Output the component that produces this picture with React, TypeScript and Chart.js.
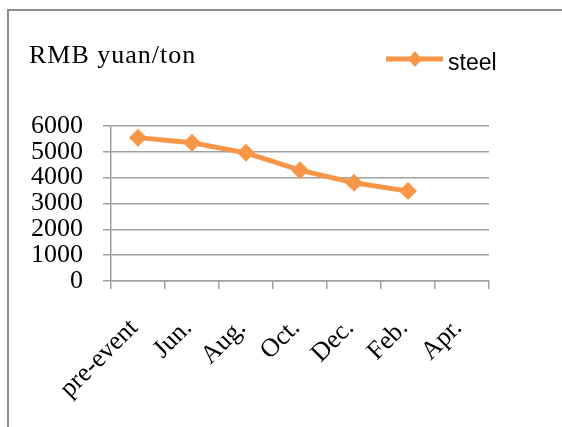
import React, { useEffect, useRef } from "react";
import { Chart, registerables } from "chart.js";

Chart.register(...registerables);

const categories = ["pre-event", "Jun.", "Aug.", "Oct.", "Dec.", "Feb.", "Apr."];
const steelValues: (number | null)[] = [5550, 5350, 4960, 4290, 3800, 3480, null];
const seriesName = "steel";
const unitTitle = "RMB yuan/ton";
const yTicks = [0, 1000, 2000, 3000, 4000, 5000, 6000];

const ORANGE = "#F79646";
const GRID = "#a0a0a0";
const SERIF = "'Liberation Serif', 'Times New Roman', serif";
const SANS = "'Liberation Sans', Arial, sans-serif";

const decorPlugin = {
  id: "decor",
  afterDraw(chart: any) {
    const ctx = chart.ctx as CanvasRenderingContext2D;
    ctx.save();
    // unit title
    ctx.fillStyle = "#000";
    ctx.font = `26px ${SERIF}`;
    ctx.textBaseline = "alphabetic";
    ctx.textAlign = "left";
    try {
      (ctx as any).letterSpacing = "1px";
    } catch (e) {}
    ctx.fillText(unitTitle, 29, 63);
    try {
      (ctx as any).letterSpacing = "0px";
    } catch (e) {}
    // legend
    const ly = 59;
    ctx.strokeStyle = ORANGE;
    ctx.lineWidth = 5;
    ctx.beginPath();
    ctx.moveTo(386, ly);
    ctx.lineTo(443, ly);
    ctx.stroke();
    ctx.fillStyle = ORANGE;
    ctx.beginPath();
    ctx.moveTo(415, ly - 8);
    ctx.lineTo(422, ly);
    ctx.lineTo(415, ly + 8);
    ctx.lineTo(408, ly);
    ctx.closePath();
    ctx.fill();
    ctx.fillStyle = "#000";
    ctx.font = `23px ${SANS}`;
    ctx.fillText(seriesName, 448, 70);
    ctx.restore();
  },
};

export default function App() {
  const ref = useRef<HTMLCanvasElement | null>(null);
  useEffect(() => {
    if (!ref.current) return;
    const chart = new Chart(ref.current, {
      type: "line",
      data: {
        labels: categories,
        datasets: [
          {
            label: seriesName,
            data: steelValues,
            borderColor: ORANGE,
            backgroundColor: ORANGE,
            borderWidth: 5,
            pointStyle: "rectRot",
            pointRadius: 9,
            pointBorderWidth: 0,
            pointBackgroundColor: ORANGE,
            tension: 0,
          },
        ],
      },
      options: {
        animation: false,
        responsive: false,
        maintainAspectRatio: false,
        layout: { padding: { left: 0, top: 126, right: 73, bottom: 0 } },
        plugins: { legend: { display: false }, title: { display: false }, tooltip: { enabled: false } },
        scales: {
          x: {
            offset: true,
            grid: {
              offset: true,
              drawOnChartArea: false,
              drawTicks: true,
              tickLength: 8,
              color: GRID,
              lineWidth: 1.5,
            },
            border: { display: true, color: GRID, width: 1.5 },
            ticks: {
              autoSkip: false,
              minRotation: 45,
              maxRotation: 45,
              padding: 24,
              labelOffset: -4,
              color: "#000",
              font: { family: SERIF, size: 26 },
            },
            afterFit(scale: any) {
              scale.height = 146;
            },
          },
          y: {
            min: 0,
            max: 6000,
            afterBuildTicks(scale: any) {
              scale.ticks = yTicks.map((v) => ({ value: v }));
            },
            grid: { color: GRID, lineWidth: 1.5, tickLength: 8, drawTicks: true },
            border: { display: true, color: GRID, width: 1.5 },
            ticks: {
              autoSkip: false,
              padding: 20,
              color: "#000",
              font: { family: SERIF, size: 26, lineHeight: 1 },
              callback: (v: any) => String(v),
            },
            afterFit(scale: any) {
              scale.width = 111;
            },
          },
        },
      },
      plugins: [decorPlugin],
    });
    return () => chart.destroy();
  }, []);
  return (
    <div style={{ position: "fixed", left: 0, top: 0, width: 562, height: 427, background: "#fff" }}>
      <div
        style={{
          position: "absolute",
          left: 7,
          top: 9,
          width: 700,
          height: 700,
          border: "2px solid #8c8c8c",
        }}
      />
      <canvas ref={ref} width={562} height={427} style={{ position: "absolute", left: 0, top: 0 }} />
    </div>
  );
}
